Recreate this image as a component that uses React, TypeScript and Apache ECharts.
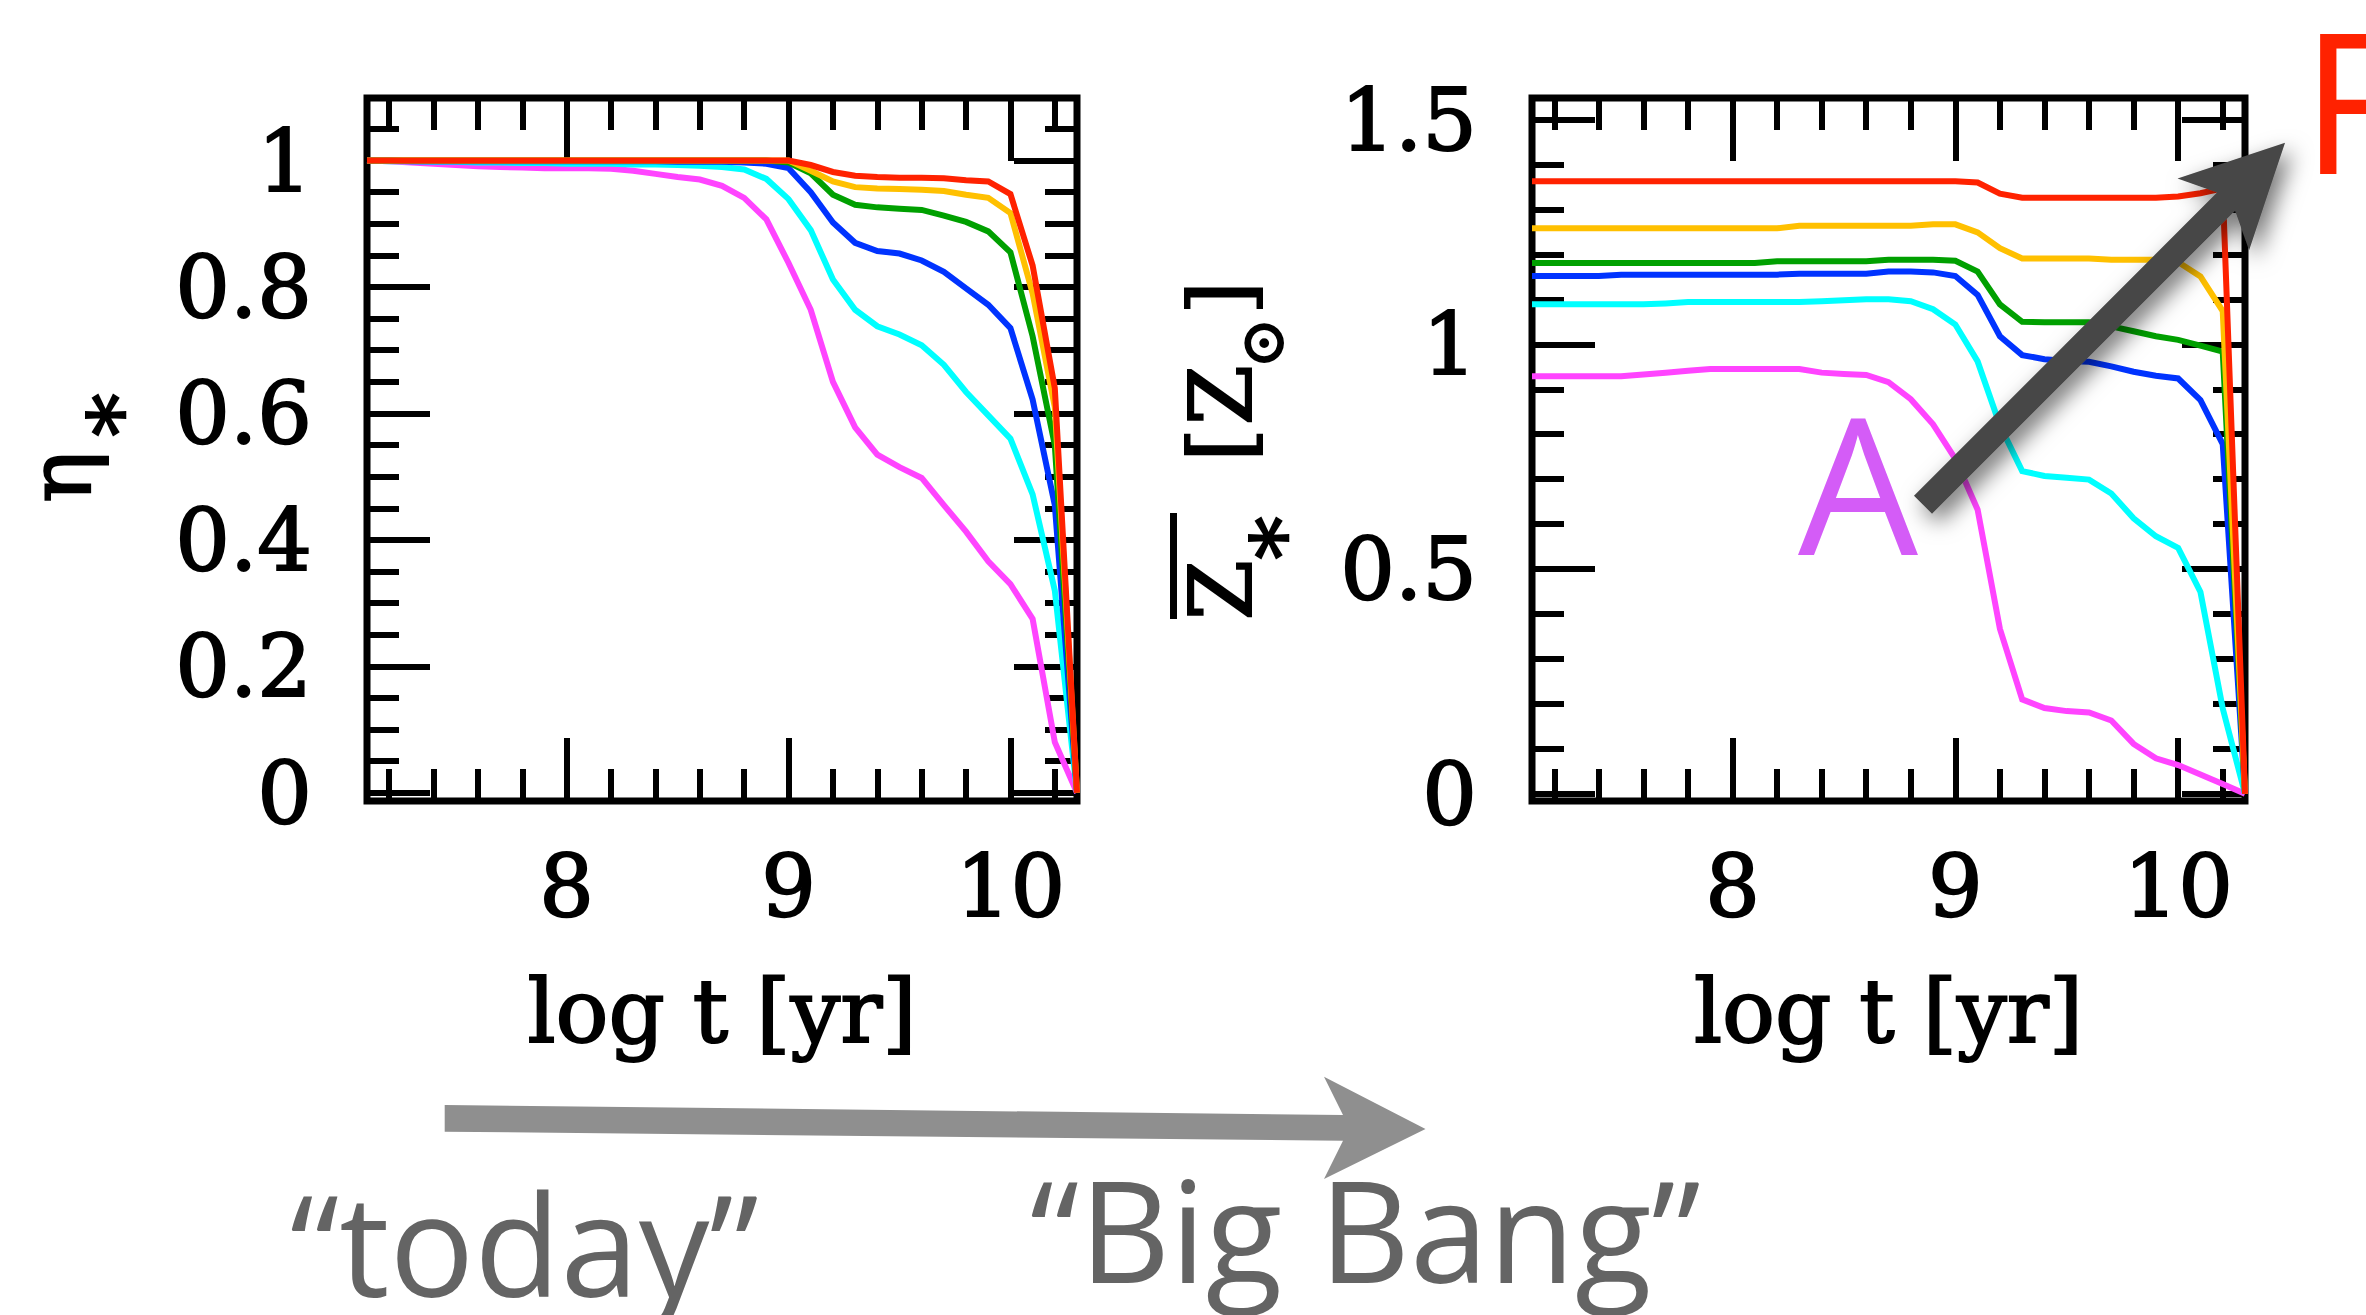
import React, { useEffect, useRef } from "react";
import * as echarts from "echarts";

// ---------- data ----------
const LOG_T = [
  7.1, 7.2, 7.3, 7.4, 7.5, 7.6, 7.7, 7.8, 7.9, 8.0,
  8.1, 8.2, 8.3, 8.4, 8.5, 8.6, 8.7, 8.8, 8.9, 9.0,
  9.1, 9.2, 9.3, 9.4, 9.5, 9.6, 9.7, 9.8, 9.9, 10.0,
  10.1, 10.2, 10.3,
];

// left panel: eta_*
const ETA_MAGENTA = [
  1.0, 0.999, 0.997, 0.995, 0.993, 0.991, 0.99, 0.989, 0.988, 0.988,
  0.988, 0.987, 0.984, 0.979, 0.974, 0.97, 0.96, 0.941, 0.907, 0.838,
  0.764, 0.65, 0.578, 0.535, 0.515, 0.498, 0.455, 0.413, 0.366, 0.33,
  0.275, 0.08, 0,
];
const ETA_CYAN = [
  1.0, 0.999, 0.999, 0.998, 0.998, 0.997, 0.997, 0.996, 0.996, 0.995,
  0.995, 0.995, 0.994, 0.994, 0.993, 0.992, 0.99, 0.986, 0.971, 0.939,
  0.89, 0.812, 0.764, 0.738, 0.725, 0.708, 0.677, 0.634, 0.597, 0.56,
  0.472, 0.32, 0,
];
const ETA_BLUE = [
  1.0, 1.0, 0.999, 0.999, 0.999, 0.999, 0.999, 0.999, 0.999, 0.999,
  0.999, 0.999, 0.999, 0.999, 0.998, 0.998, 0.998, 0.997, 0.995, 0.988,
  0.95, 0.902, 0.87, 0.857, 0.853, 0.842, 0.824, 0.798, 0.772, 0.735,
  0.622, 0.455, 0,
];
const ETA_GREEN = [
  1.0, 1.0, 1.0, 1.0, 1.0, 1.0, 1.0, 1.0, 1.0, 1.0,
  1.0, 1.0, 1.0, 1.0, 1.0, 1.0, 1.0, 1.0, 1.0, 0.997,
  0.98, 0.946, 0.93, 0.926, 0.924, 0.922, 0.913, 0.903, 0.888, 0.855,
  0.722, 0.55, 0,
];
const ETA_YELLOW = [
  1.0, 1.0, 1.0, 1.0, 1.0, 1.0, 1.0, 1.0, 1.0, 1.0,
  1.0, 1.0, 1.0, 1.0, 1.0, 1.0, 1.0, 1.0, 1.0, 1.0,
  0.984, 0.967, 0.958, 0.956, 0.955, 0.954, 0.952, 0.946, 0.941, 0.917,
  0.79, 0.61, 0,
];
const ETA_RED = [
  1.0, 1.0, 1.0, 1.0, 1.0, 1.0, 1.0, 1.0, 1.0, 1.0,
  1.0, 1.0, 1.0, 1.0, 1.0, 1.0, 1.0, 1.0, 1.0, 1.0,
  0.993, 0.982, 0.976, 0.974, 0.973, 0.973, 0.972, 0.969, 0.967, 0.947,
  0.834, 0.64, 0,
];

// right panel: mean Z_* [Z_sun]
const Z_MAGENTA = [
  0.929, 0.929, 0.929, 0.929, 0.929, 0.933, 0.937, 0.941, 0.945, 0.945,
  0.945, 0.945, 0.945, 0.937, 0.934, 0.932, 0.916, 0.878, 0.822, 0.745,
  0.632, 0.367, 0.21, 0.191, 0.184, 0.181, 0.163, 0.111, 0.079, 0.064,
  0.043, 0.022, 0,
];
const Z_CYAN = [
  1.089, 1.089, 1.089, 1.089, 1.089, 1.089, 1.091, 1.094, 1.094, 1.094,
  1.094, 1.094, 1.094, 1.096, 1.098, 1.1, 1.1, 1.096, 1.078, 1.044,
  0.962, 0.82, 0.718, 0.707, 0.703, 0.699, 0.668, 0.613, 0.573, 0.547,
  0.449, 0.19, 0,
];
const Z_BLUE = [
  1.152, 1.152, 1.152, 1.152, 1.155, 1.155, 1.155, 1.155, 1.155, 1.155,
  1.155, 1.155, 1.157, 1.157, 1.157, 1.157, 1.162, 1.162, 1.16, 1.152,
  1.11, 1.018, 0.976, 0.967, 0.963, 0.961, 0.951, 0.939, 0.93, 0.924,
  0.876, 0.778, 0,
];
const Z_GREEN = [
  1.181, 1.181, 1.181, 1.181, 1.181, 1.181, 1.181, 1.181, 1.181, 1.181,
  1.181, 1.185, 1.185, 1.185, 1.185, 1.185, 1.188, 1.188, 1.188, 1.186,
  1.162, 1.089, 1.05, 1.049, 1.049, 1.049, 1.04, 1.029, 1.018, 1.01,
  0.997, 0.984, 0,
];
const Z_YELLOW = [
  1.258, 1.258, 1.258, 1.258, 1.258, 1.258, 1.258, 1.258, 1.258, 1.258,
  1.258, 1.258, 1.264, 1.264, 1.264, 1.264, 1.264, 1.264, 1.267, 1.267,
  1.249, 1.214, 1.191, 1.191, 1.191, 1.191, 1.188, 1.188, 1.188, 1.183,
  1.151, 1.074, 0,
];
const Z_RED = [
  1.363, 1.363, 1.363, 1.363, 1.363, 1.363, 1.363, 1.363, 1.363, 1.363,
  1.363, 1.363, 1.363, 1.363, 1.363, 1.363, 1.363, 1.363, 1.363, 1.363,
  1.36, 1.335, 1.326, 1.326, 1.326, 1.326, 1.326, 1.326, 1.326, 1.329,
  1.336, 1.347, 0,
];

// tick values
const X_MAJOR = [8, 9, 10];
const X_MINOR = [7.2, 7.4, 7.6, 7.8, 8.2, 8.4, 8.6, 8.8, 9.2, 9.4, 9.6, 9.8, 10.2];
const ETA_MAJOR = [0, 0.2, 0.4, 0.6, 0.8, 1];
const ETA_MINOR = [
  0.05, 0.1, 0.15, 0.25, 0.3, 0.35, 0.45, 0.5, 0.55, 0.65, 0.7, 0.75, 0.85, 0.9, 0.95, 1.05,
];
const Z_MAJOR = [0, 0.5, 1, 1.5];
const Z_MINOR = [0.1, 0.2, 0.3, 0.4, 0.6, 0.7, 0.8, 0.9, 1.1, 1.2, 1.3, 1.4];

const X_RANGE = [7.1, 10.3];
const ETA_RANGE = [-0.013, 1.099];
const Z_RANGE = [-0.016, 1.548];

const COLORS = {
  magenta: "#FF44FF",
  cyan: "#00FFFF",
  blue: "#0033FF",
  green: "#00A000",
  yellow: "#FFC000",
  red: "#FF2200",
};

const LEFT_SERIES = [
  { name: "magenta", color: COLORS.magenta, values: ETA_MAGENTA },
  { name: "cyan", color: COLORS.cyan, values: ETA_CYAN },
  { name: "blue", color: COLORS.blue, values: ETA_BLUE },
  { name: "green", color: COLORS.green, values: ETA_GREEN },
  { name: "yellow", color: COLORS.yellow, values: ETA_YELLOW },
  { name: "red", color: COLORS.red, values: ETA_RED },
];
const RIGHT_SERIES = [
  { name: "magenta", color: COLORS.magenta, values: Z_MAGENTA },
  { name: "cyan", color: COLORS.cyan, values: Z_CYAN },
  { name: "blue", color: COLORS.blue, values: Z_BLUE },
  { name: "green", color: COLORS.green, values: Z_GREEN },
  { name: "yellow", color: COLORS.yellow, values: Z_YELLOW },
  { name: "red", color: COLORS.red, values: Z_RED },
];

// ---------- styling ----------
const SERIF = '"DejaVu Serif", "Liberation Serif", serif';
const SANS = '"Open Sans", "Noto Sans", sans-serif';
const TICK_W = 6;
const MAJOR_LEN = 63;
const MINOR_LEN = 32;
const LABEL_SIZE = 86;
const TITLE_SIZE = 86;
const INK = 2; // extra stroke to mimic the heavier plotting font

function tickAxis(
  gridIndex: number,
  position: string,
  range: number[],
  values: number[],
  length: number,
  withLabels: boolean,
  extra: any = {}
) {
  return {
    type: "value",
    gridIndex,
    position,
    min: range[0],
    max: range[1],
    scale: false,
    axisLine: { show: false, onZero: false },
    splitLine: { show: false },
    axisTick: {
      show: true,
      inside: true,
      length,
      customValues: values,
      lineStyle: { color: "#000", width: TICK_W, cap: "butt" },
    },
    axisLabel: withLabels
      ? {
          show: true,
          customValues: values,
          fontFamily: SERIF,
          fontSize: LABEL_SIZE,
          color: "#000",
          textBorderColor: "#000",
          textBorderWidth: INK,
          margin: position === "bottom" ? 42 : 55,
        }
      : { show: false },
    ...extra,
  };
}

function xAxesFor(gridIndex: number) {
  return [
    tickAxis(gridIndex, "bottom", X_RANGE, X_MAJOR, MAJOR_LEN, true, {
      name: "log t [yr]",
      nameLocation: "middle",
      nameGap: 166,
      nameTextStyle: {
        fontFamily: SERIF,
        fontSize: TITLE_SIZE + 2,
        color: "#000",
        textBorderColor: "#000",
        textBorderWidth: INK,
      },
    }),
    tickAxis(gridIndex, "bottom", X_RANGE, X_MINOR, MINOR_LEN, false),
    tickAxis(gridIndex, "top", X_RANGE, X_MAJOR, MAJOR_LEN, false),
    tickAxis(gridIndex, "top", X_RANGE, X_MINOR, MINOR_LEN, false),
  ];
}

function yAxesFor(gridIndex: number, range: number[], major: number[], minor: number[]) {
  return [
    tickAxis(gridIndex, "left", range, major, MAJOR_LEN, true),
    tickAxis(gridIndex, "left", range, minor, MINOR_LEN, false),
    tickAxis(gridIndex, "right", range, major, MAJOR_LEN, false),
    tickAxis(gridIndex, "right", range, minor, MINOR_LEN, false),
  ];
}

function lineSeries(list: any[], axisIndex: number) {
  return list.map((s) => ({
    type: "line",
    name: s.name,
    xAxisIndex: axisIndex,
    yAxisIndex: axisIndex,
    data: LOG_T.map((x, i) => [x, s.values[i]]),
    showSymbol: false,
    symbol: "none",
    silent: true,
    lineStyle: { color: s.color, width: 6, join: "miter" },
    itemStyle: { color: s.color },
    z: 3,
  }));
}

// annotation geometry
function darkArrowPoints() {
  const c0 = [1923, 504.7];
  const u = [Math.SQRT1_2, -Math.SQRT1_2];
  const n = [Math.SQRT1_2, Math.SQRT1_2];
  const shape = [
    [0, -12.75], [428.6, -12.75], [410.6, -50.6], [512, 0],
    [410.6, 50.6], [428.6, 12.75], [0, 12.75],
  ];
  return shape.map(([s, t]) => [c0[0] + s * u[0] + t * n[0], c0[1] + s * u[1] + t * n[1]]);
}
const GREY_ARROW = [
  [444.7, 1105], [1343, 1115], [1324, 1076.7], [1425.5, 1129],
  [1324, 1179], [1343, 1140.7], [444.7, 1131.7],
];

function txt(text: string, x: number, y: number, size: number, family: string, fill: string, opts: any = {}) {
  const align = opts.align || "center";
  const style: any = {
    text,
    fontSize: size,
    fontFamily: family,
    fontWeight: opts.weight || "normal",
    fill,
    align,
    textAlign: align,
    verticalAlign: "middle",
    textVerticalAlign: "middle",
  };
  if (opts.ink) {
    style.stroke = fill;
    style.lineWidth = opts.ink;
  }
  return {
    type: "text",
    x,
    y,
    rotation: opts.rotation || 0,
    z: 100,
    silent: true,
    style,
  };
}

const R90 = Math.PI / 2;

export default function App() {
  const ref = useRef<HTMLDivElement | null>(null);

  useEffect(() => {
    document.body.style.margin = "0";
    document.body.style.overflow = "hidden";
    if (!ref.current) return;
    const chart = echarts.init(ref.current, null, { renderer: "svg" });
    const yt = { rotation: R90, ink: INK };
    const option: any = {
      animation: false,
      backgroundColor: "#fff",
      grid: [
        { left: 367, top: 98, width: 710, height: 703, show: true, borderColor: "#000", borderWidth: 7, backgroundColor: "transparent" },
        { left: 1532, top: 98, width: 713, height: 703, show: true, borderColor: "#000", borderWidth: 7, backgroundColor: "transparent" },
      ],
      xAxis: [...xAxesFor(0), ...xAxesFor(1)],
      yAxis: [
        ...yAxesFor(0, ETA_RANGE, ETA_MAJOR, ETA_MINOR),
        ...yAxesFor(1, Z_RANGE, Z_MAJOR, Z_MINOR),
      ],
      series: [...lineSeries(LEFT_SERIES, 0), ...lineSeries(RIGHT_SERIES, 4)],
      graphic: [
        // left y title: eta with subscript asterisk
        txt("η", 60, 477, TITLE_SIZE, SERIF, "#000", yt),
        txt("*", 120, 415, TITLE_SIZE, SERIF, "#000", yt),
        // right y title: overline Z_* [Z_sun]
        txt("Z", 1221, 590, TITLE_SIZE, SERIF, "#000", yt),
        txt("*", 1283, 538, TITLE_SIZE, SERIF, "#000", yt),
        {
          type: "rect",
          z: 100,
          silent: true,
          shape: { x: 1170, y: 513, width: 7, height: 106 },
          style: { fill: "#000" },
        },
        txt("[", 1221, 445, TITLE_SIZE, SERIF, "#000", yt),
        txt("Z", 1221, 395, TITLE_SIZE, SERIF, "#000", yt),
        txt("⊙", 1262, 343, 60, SERIF, "#000", yt),
        txt("]", 1221, 298, TITLE_SIZE, SERIF, "#000", yt),
        // grey time arrow
        {
          type: "polygon",
          z: 90,
          silent: true,
          shape: { points: GREY_ARROW },
          style: { fill: "#8F8F8F" },
        },
        txt("“today”", 290, 1242, 141, SANS, "#646464", { align: "left" }),
        txt("“Big Bang”", 1030, 1228, 141, SANS, "#646464", { align: "left" }),
        // A -> F annotation
        txt("A", 1858, 481, 190, SANS, "#D45CF7"),
        txt("F", 2301, 98, 196, SANS, "#FF2200", { align: "left" }),
        {
          type: "polygon",
          z: 110,
          silent: true,
          shape: { points: darkArrowPoints() },
          style: {
            fill: "#474747",
            shadowBlur: 22,
            shadowColor: "rgba(0,0,0,0.55)",
            shadowOffsetX: 7,
            shadowOffsetY: 9,
          },
        },
      ],
    };
    chart.setOption(option);
    return () => chart.dispose();
  }, []);

  return (
    <div
      ref={ref}
      style={{ position: "absolute", left: 0, top: 0, width: 2366, height: 1315, background: "#fff" }}
    />
  );
}
